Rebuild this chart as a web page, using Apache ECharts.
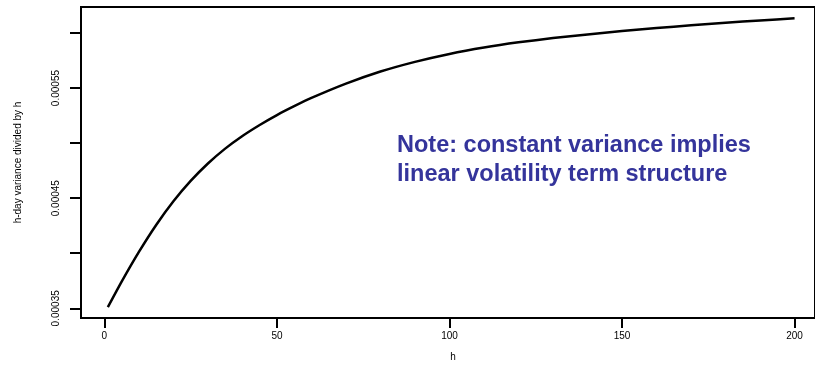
<!DOCTYPE html>
<html>
<head>
<meta charset="utf-8">
<script src="https://cdn.jsdelivr.net/npm/echarts@6/dist/echarts.min.js"></script>
<style>
  html, body { margin: 0; padding: 0; background: #ffffff; }
  #chart { width: 815px; height: 368px; }
</style>
</head>
<body>
<div id="chart"></div>
<script>
// Horizon h (days) and the h-day variance divided by h
const horizons = [1, 5, 10, 15, 20, 25, 30, 35, 40, 45, 50, 55, 60,
  70, 80, 90, 100, 110, 120, 130, 140, 150, 160, 170, 180, 190, 200];
const varianceByH = [0.000351, 0.0003742, 0.0004012, 0.0004257, 0.0004472, 0.0004657, 0.0004815,
  0.000495, 0.0005065, 0.0005165, 0.0005255, 0.0005335, 0.000541,
  0.000554, 0.000565, 0.0005738, 0.000581, 0.0005868, 0.0005915, 0.0005954, 0.0005987,
  0.0006017, 0.0006045, 0.000607, 0.0006093, 0.0006114, 0.0006133];

// Axis ticks and labelled values
const xTicks = [0, 50, 100, 150, 200];
const yTicks = [0.00035, 0.00040, 0.00045, 0.00050, 0.00055, 0.00060];
const yLabelled = [0.00035, 0.00045, 0.00055];

const noteLines = ['Note: constant variance implies', 'linear volatility term structure'];

const FONT = 'Liberation Sans, Arial, Helvetica, sans-serif';
const chart = echarts.init(document.getElementById('chart'));

const axisStroke = { color: '#000000', width: 2 };

chart.setOption({
  animation: false,
  backgroundColor: '#ffffff',
  grid: {
    left: 81, right: -3, top: 7, bottom: 50,
    show: true, borderColor: '#000000', borderWidth: 2, backgroundColor: 'transparent'
  },
  xAxis: {
    type: 'value',
    min: -6.78, max: 205.92,
    name: 'h',
    nameLocation: 'middle',
    nameGap: 34,
    nameTextStyle: { fontFamily: FONT, fontSize: 10, color: '#000', padding: [0, 0, 0, 10] },
    axisLine: { show: true, onZero: false, lineStyle: axisStroke },
    splitLine: { show: false },
    axisTick: { show: true, customValues: xTicks, length: 10, lineStyle: axisStroke },
    axisLabel: {
      customValues: xTicks, margin: 13,
      fontFamily: FONT, fontSize: 10, color: '#000'
    }
  },
  yAxis: {
    type: 'value',
    min: 0.0003412, max: 0.0006236,
    name: 'h-day variance divided by h',
    nameLocation: 'middle',
    nameRotate: 90,
    nameGap: 58,
    nameTextStyle: { fontFamily: FONT, fontSize: 10, color: '#000' },
    axisLine: { show: true, onZero: false, lineStyle: axisStroke },
    splitLine: { show: false },
    axisTick: { show: true, customValues: yTicks, length: 11, lineStyle: axisStroke },
    axisLabel: {
      customValues: yLabelled, rotate: 90, margin: 20,
      fontFamily: FONT, fontSize: 10, color: '#000',
      formatter: v => v.toFixed(5)
    }
  },
  series: [{
    type: 'line',
    data: horizons.map((h, i) => [h, varianceByH[i]]),
    showSymbol: false,
    smooth: 0.2,
    lineStyle: { color: '#000000', width: 2.5 }
  }],
  graphic: [{
    type: 'text',
    x: 397, y: 131,
    style: {
      text: noteLines.join('\n'),
      font: 'bold 23.5px ' + FONT,
      fill: '#34349b',
      lineHeight: 29,
      align: 'left',
      verticalAlign: 'top'
    }
  }]
});
</script>
</body>
</html>
